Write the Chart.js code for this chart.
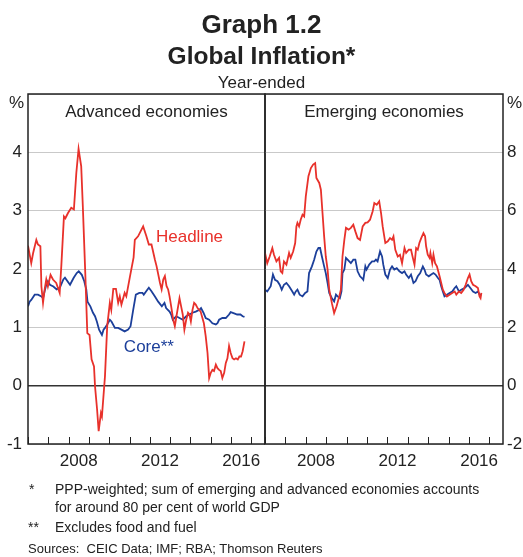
<!DOCTYPE html>
<html>
<head>
<meta charset="utf-8">
<script src="https://cdn.jsdelivr.net/npm/chart.js@4.4.1/dist/chart.umd.min.js"></script>
<style>
  html, body { margin: 0; padding: 0; background: #fff; }
  #wrap { position: relative; width: 523px; height: 557px; overflow: hidden; font-family: "Liberation Sans", Arial, sans-serif; color: #222; }
  canvas { position: absolute; left: 0; top: 0; }
  .t { position: absolute; white-space: nowrap; line-height: 1; }
  .c { left: 0; width: 523px; text-align: center; }
  .fn { font-size: 14px; }
</style>
</head>
<body>
<div id="wrap">
  <canvas id="advanced" width="523" height="557"></canvas>
  <canvas id="emerging" width="523" height="557"></canvas>
  <div class="t c" style="top:11px;font-size:26px;font-weight:bold;">Graph 1.2</div>
  <div class="t c" style="top:44px;font-size:24.5px;font-weight:bold;">Global Inflation*</div>
  <div class="t c" style="top:74px;font-size:17px;">Year-ended</div>
  <div class="t" style="top:94px;left:9px;font-size:17px;">%</div>
  <div class="t" style="top:94px;left:507px;font-size:17px;">%</div>
  <div class="t fn" style="top:482px;left:29px;">*</div>
  <div class="t fn" style="top:482px;left:55px;">PPP-weighted; sum of emerging and advanced economies accounts</div>
  <div class="t fn" style="top:500px;left:55px;">for around 80 per cent of world GDP</div>
  <div class="t fn" style="top:520px;left:28px;">**</div>
  <div class="t fn" style="top:520px;left:55px;">Excludes food and fuel</div>
  <div class="t" style="top:542px;left:28px;font-size:13px;">Sources:&nbsp; CEIC Data; IMF; RBA; Thomson Reuters</div>
</div>
<script>
// values (year-ended %, dates as decimal years)
const advHeadlineDates = [2006.00, 2006.16, 2006.25, 2006.41, 2006.49, 2006.61, 2006.66, 2006.74, 2006.82, 2006.90, 2006.98, 2007.11, 2007.23, 2007.39, 2007.56, 2007.64, 2007.77, 2007.84, 2007.97, 2008.13, 2008.26, 2008.38, 2008.49, 2008.62, 2008.70, 2008.82, 2008.92, 2009.03, 2009.13, 2009.25, 2009.30, 2009.40, 2009.48, 2009.59, 2009.64, 2009.79, 2009.90, 2010.03, 2010.10, 2010.20, 2010.33, 2010.44, 2010.52, 2010.60, 2010.76, 2010.84, 2011.02, 2011.20, 2011.26, 2011.42, 2011.67, 2011.83, 2011.95, 2012.08, 2012.25, 2012.33, 2012.50, 2012.58, 2012.66, 2012.74, 2012.82, 2012.90, 2012.97, 2013.05, 2013.15, 2013.23, 2013.31, 2013.46, 2013.54, 2013.62, 2013.70, 2013.79, 2013.88, 2013.95, 2014.02, 2014.10, 2014.18, 2014.26, 2014.35, 2014.43, 2014.50, 2014.66, 2014.75, 2014.84, 2014.92, 2015.00, 2015.08, 2015.16, 2015.25, 2015.33, 2015.41, 2015.49, 2015.57, 2015.66, 2015.74, 2015.82, 2015.90, 2015.98, 2016.07, 2016.15, 2016.24, 2016.33, 2016.41, 2016.49, 2016.57, 2016.66];
const advHeadlineValues = [2.40, 2.10, 2.27, 2.50, 2.42, 2.39, 1.70, 1.42, 1.65, 1.82, 1.70, 1.90, 1.82, 1.76, 1.59, 2.05, 2.90, 2.87, 2.96, 3.05, 3.02, 3.65, 4.06, 3.76, 3.07, 1.93, 0.90, 0.87, 0.45, 0.33, -0.01, -0.40, -0.78, -0.47, -0.53, 0.16, 1.02, 1.42, 1.30, 1.66, 1.66, 1.42, 1.53, 1.39, 1.59, 1.53, 1.87, 2.20, 2.50, 2.56, 2.73, 2.56, 2.42, 2.42, 2.16, 2.05, 1.76, 1.65, 1.82, 1.88, 1.71, 1.65, 1.53, 1.36, 1.13, 1.02, 1.19, 1.50, 1.36, 1.22, 0.96, 1.13, 1.25, 1.22, 1.10, 1.30, 1.42, 1.39, 1.33, 1.30, 1.27, 1.07, 0.85, 0.56, 0.13, 0.22, 0.27, 0.25, 0.36, 0.30, 0.27, 0.25, 0.13, 0.22, 0.39, 0.47, 0.68, 0.56, 0.47, 0.45, 0.47, 0.45, 0.50, 0.50, 0.59, 0.76];

const advCoreDates = [2006.00, 2006.08, 2006.16, 2006.33, 2006.49, 2006.66, 2006.74, 2006.82, 2006.90, 2006.98, 2007.08, 2007.25, 2007.41, 2007.57, 2007.74, 2007.82, 2008.07, 2008.25, 2008.40, 2008.50, 2008.65, 2008.77, 2008.87, 2008.93, 2009.07, 2009.20, 2009.30, 2009.39, 2009.50, 2009.64, 2009.72, 2009.79, 2009.90, 2010.03, 2010.11, 2010.28, 2010.44, 2010.60, 2010.76, 2010.93, 2011.05, 2011.18, 2011.31, 2011.48, 2011.64, 2011.70, 2011.82, 2011.95, 2012.08, 2012.25, 2012.41, 2012.59, 2012.72, 2012.80, 2012.97, 2013.05, 2013.13, 2013.30, 2013.46, 2013.62, 2013.79, 2013.95, 2014.10, 2014.26, 2014.44, 2014.52, 2014.64, 2014.75, 2014.92, 2015.08, 2015.25, 2015.33, 2015.41, 2015.57, 2015.74, 2015.90, 2015.98, 2016.15, 2016.30, 2016.46, 2016.57, 2016.66];
const advCoreValues = [1.36, 1.44, 1.47, 1.56, 1.56, 1.53, 1.50, 1.62, 1.73, 1.79, 1.73, 1.70, 1.65, 1.68, 1.82, 1.85, 1.73, 1.85, 1.93, 1.96, 1.90, 1.79, 1.65, 1.44, 1.36, 1.25, 1.19, 1.10, 0.96, 0.87, 0.96, 0.99, 1.05, 1.13, 1.10, 0.99, 0.99, 0.96, 0.93, 0.96, 1.02, 1.30, 1.56, 1.59, 1.59, 1.56, 1.62, 1.68, 1.62, 1.53, 1.44, 1.36, 1.42, 1.33, 1.27, 1.22, 1.13, 1.19, 1.16, 1.13, 1.19, 1.22, 1.25, 1.27, 1.30, 1.33, 1.25, 1.16, 1.13, 1.07, 1.05, 1.07, 1.13, 1.16, 1.16, 1.22, 1.26, 1.24, 1.22, 1.22, 1.19, 1.18];

const emHeadlineDates = [2006.00, 2006.11, 2006.23, 2006.36, 2006.44, 2006.56, 2006.69, 2006.77, 2006.85, 2006.93, 2007.05, 2007.18, 2007.26, 2007.38, 2007.48, 2007.54, 2007.59, 2007.67, 2007.75, 2007.84, 2007.92, 2008.00, 2008.13, 2008.25, 2008.36, 2008.46, 2008.52, 2008.66, 2008.74, 2008.82, 2008.90, 2008.98, 2009.07, 2009.15, 2009.28, 2009.39, 2009.51, 2009.64, 2009.72, 2009.80, 2009.89, 2009.97, 2010.10, 2010.21, 2010.33, 2010.43, 2010.54, 2010.66, 2010.79, 2010.92, 2011.03, 2011.15, 2011.28, 2011.36, 2011.48, 2011.60, 2011.69, 2011.77, 2011.90, 2012.02, 2012.13, 2012.23, 2012.30, 2012.39, 2012.51, 2012.62, 2012.72, 2012.84, 2012.92, 2013.05, 2013.16, 2013.25, 2013.33, 2013.41, 2013.49, 2013.57, 2013.66, 2013.77, 2013.85, 2013.90, 2013.98, 2014.07, 2014.11, 2014.20, 2014.26, 2014.34, 2014.43, 2014.56, 2014.64, 2014.72, 2014.80, 2014.92, 2015.05, 2015.18, 2015.30, 2015.38, 2015.51, 2015.62, 2015.74, 2015.84, 2015.95, 2016.03, 2016.11, 2016.20, 2016.33, 2016.44, 2016.52, 2016.57, 2016.61];
const emHeadlineValues = [4.55, 4.20, 4.43, 4.72, 4.49, 4.26, 4.38, 3.92, 3.86, 4.26, 4.15, 4.55, 4.38, 4.60, 4.89, 5.46, 5.58, 5.46, 5.69, 5.86, 5.80, 6.49, 7.18, 7.46, 7.58, 7.63, 7.12, 6.95, 6.72, 5.92, 5.12, 4.43, 3.98, 3.29, 2.83, 2.49, 2.72, 3.06, 3.29, 4.43, 5.00, 5.41, 5.35, 5.41, 5.52, 5.29, 5.06, 5.00, 5.46, 5.58, 5.60, 5.69, 5.98, 6.26, 6.20, 6.32, 5.92, 5.46, 4.89, 4.95, 5.06, 5.00, 5.12, 4.66, 4.43, 4.49, 4.20, 4.72, 4.55, 4.66, 4.66, 4.38, 4.15, 4.72, 4.66, 4.89, 5.06, 5.23, 5.12, 4.78, 4.49, 4.38, 4.55, 4.20, 4.49, 4.20, 4.09, 3.75, 3.52, 3.29, 3.18, 3.06, 3.12, 3.18, 3.23, 3.12, 3.23, 3.18, 3.29, 3.46, 3.69, 3.81, 3.58, 3.46, 3.41, 3.35, 3.06, 3.00, 3.18];

const emCoreDates = [2006.00, 2006.11, 2006.28, 2006.39, 2006.49, 2006.61, 2006.72, 2006.82, 2006.93, 2007.05, 2007.18, 2007.34, 2007.43, 2007.51, 2007.59, 2007.70, 2007.84, 2007.97, 2008.08, 2008.16, 2008.30, 2008.41, 2008.52, 2008.62, 2008.70, 2008.79, 2008.90, 2008.98, 2009.07, 2009.15, 2009.28, 2009.39, 2009.48, 2009.56, 2009.67, 2009.75, 2009.80, 2009.89, 2009.97, 2010.05, 2010.13, 2010.21, 2010.33, 2010.43, 2010.54, 2010.66, 2010.75, 2010.82, 2010.92, 2010.98, 2011.11, 2011.25, 2011.36, 2011.44, 2011.52, 2011.64, 2011.74, 2011.80, 2011.90, 2012.02, 2012.13, 2012.23, 2012.34, 2012.46, 2012.59, 2012.72, 2012.84, 2012.92, 2013.05, 2013.16, 2013.28, 2013.38, 2013.49, 2013.61, 2013.74, 2013.82, 2013.90, 2014.03, 2014.15, 2014.26, 2014.36, 2014.48, 2014.56, 2014.64, 2014.72, 2014.80, 2014.92, 2015.05, 2015.18, 2015.30, 2015.38, 2015.51, 2015.62, 2015.79, 2015.95, 2016.07, 2016.20, 2016.33, 2016.44, 2016.52, 2016.61];
const emCoreValues = [3.29, 3.23, 3.41, 3.81, 3.63, 3.58, 3.46, 3.29, 3.46, 3.52, 3.41, 3.23, 3.12, 3.23, 3.29, 3.12, 3.06, 3.18, 3.23, 3.86, 4.09, 4.32, 4.60, 4.72, 4.72, 4.43, 4.09, 3.86, 3.52, 3.18, 3.00, 2.89, 3.12, 3.06, 3.00, 3.23, 3.86, 3.98, 4.38, 4.32, 4.26, 4.20, 4.32, 4.32, 3.92, 3.75, 3.69, 3.63, 4.09, 3.98, 4.15, 4.26, 4.26, 4.32, 4.26, 4.60, 4.43, 4.15, 3.81, 3.69, 3.98, 4.09, 3.98, 4.03, 3.92, 3.86, 3.92, 3.81, 3.69, 3.81, 3.52, 3.58, 3.75, 3.86, 4.09, 3.98, 3.81, 3.75, 3.81, 3.86, 3.81, 3.69, 3.63, 3.41, 3.23, 3.06, 3.12, 3.18, 3.23, 3.35, 3.41, 3.23, 3.29, 3.35, 3.46, 3.35, 3.23, 3.18, 3.23, 3.12, 3.12];

const yearTicks = [2008, 2012, 2016];

const RED = "#e8312b";
const BLUE = "#1c3f9a";
const TEXT = "#222";
const FONT = '"Liberation Sans", Arial, sans-serif';

function toPoints(dates, values) {
  return dates.map((d, i) => ({ x: d, y: values[i] }));
}

// ticks on the bottom axis point up into the plot, plus the box and in-plot labels
const panelPlugin = {
  id: "panel",
  afterDatasetsDraw(chart, args, opts) {
    const { ctx, chartArea: a, scales } = chart;
    const x = scales.x;
    const y = scales.y;
    ctx.save();
    ctx.strokeStyle = TEXT;
    ctx.lineWidth = 1;
    x.ticks.forEach((t) => {
      const px = Math.round(x.getPixelForValue(t.value)) + 0.5;
      ctx.beginPath();
      ctx.moveTo(px, a.bottom);
      ctx.lineTo(px, a.bottom - 7);
      ctx.stroke();
    });
    ctx.lineWidth = 1.5;
    ctx.strokeRect(a.left, a.top, a.right - a.left, a.bottom - a.top);

    ctx.font = "17px " + FONT;
    ctx.textBaseline = "alphabetic";
    ctx.textAlign = "center";
    ctx.fillStyle = TEXT;
    ctx.fillText(opts.title, (a.left + a.right) / 2, a.top + 23);
    ctx.textAlign = "left";
    (opts.notes || []).forEach((n) => {
      ctx.fillStyle = n.color;
      ctx.fillText(n.text, x.getPixelForValue(n.x), y.getPixelForValue(n.y));
    });
    ctx.restore();
  },
};

function makePanel(id, cfg) {
  const ctx = document.getElementById(id);
  return new Chart(ctx, {
    type: "line",
    data: {
      datasets: [
        {
          label: "Headline",
          data: cfg.headline,
          borderColor: RED,
          borderWidth: 1.8,
          pointRadius: 0,
          tension: 0,
        },
        {
          label: "Core",
          data: cfg.core,
          borderColor: BLUE,
          borderWidth: 1.8,
          pointRadius: 0,
          tension: 0,
        },
      ],
    },
    options: {
      responsive: false,
      animation: false,
      devicePixelRatio: 1,
      layout: { padding: cfg.padding },
      plugins: {
        legend: { display: false },
        tooltip: { enabled: false },
        panel: { title: cfg.title, notes: cfg.notes },
      },
      scales: {
        x: {
          type: "linear",
          min: 2006,
          max: 2017.67,
          border: { display: false },
          grid: { display: false, drawTicks: false },
          ticks: {
            stepSize: 1,
            includeBounds: false,
            autoSkip: false,
            maxRotation: 0,
            padding: 7,
            labelOffset: 10.15,
            color: TEXT,
            font: { family: FONT, size: 17 },
            callback: (v) => (yearTicks.includes(Math.round(v)) ? String(Math.round(v)) : ""),
          },
          afterFit: (s) => { s.height = 113; },
        },
        y: {
          position: cfg.side,
          min: cfg.min,
          max: cfg.max,
          border: { display: false },
          grid: {
            drawTicks: false,
            color: (c) => (c.tick.value === 0 ? "#333" : "#c9c9c9"),
            lineWidth: (c) => (c.tick.value === 0 ? 1.5 : 1),
          },
          ticks: {
            stepSize: cfg.step,
            padding: cfg.side === "left" ? 6 : 4,
            color: TEXT,
            font: { family: FONT, size: 17 },
            callback: (v) => (v === cfg.max ? "" : String(v)),
          },
          afterFit: (s) => { s.width = cfg.axisWidth; },
        },
      },
    },
    plugins: [panelPlugin],
  });
}

makePanel("advanced", {
  headline: toPoints(advHeadlineDates, advHeadlineValues),
  core: toPoints(advCoreDates, advCoreValues),
  title: "Advanced economies",
  notes: [
    { text: "Headline", color: RED, x: 2012.3, y: 2.47 },
    { text: "Core**", color: BLUE, x: 2010.72, y: 0.58 },
  ],
  side: "left",
  min: -1,
  max: 5,
  step: 1,
  axisWidth: 28,
  padding: { left: 0, right: 258, top: 94, bottom: 0 },
});

makePanel("emerging", {
  headline: toPoints(emHeadlineDates, emHeadlineValues),
  core: toPoints(emCoreDates, emCoreValues),
  title: "Emerging economies",
  notes: [],
  side: "right",
  min: -2,
  max: 10,
  step: 2,
  axisWidth: 20,
  padding: { left: 265, right: 0, top: 94, bottom: 0 },
});
</script>
</body>
</html>
